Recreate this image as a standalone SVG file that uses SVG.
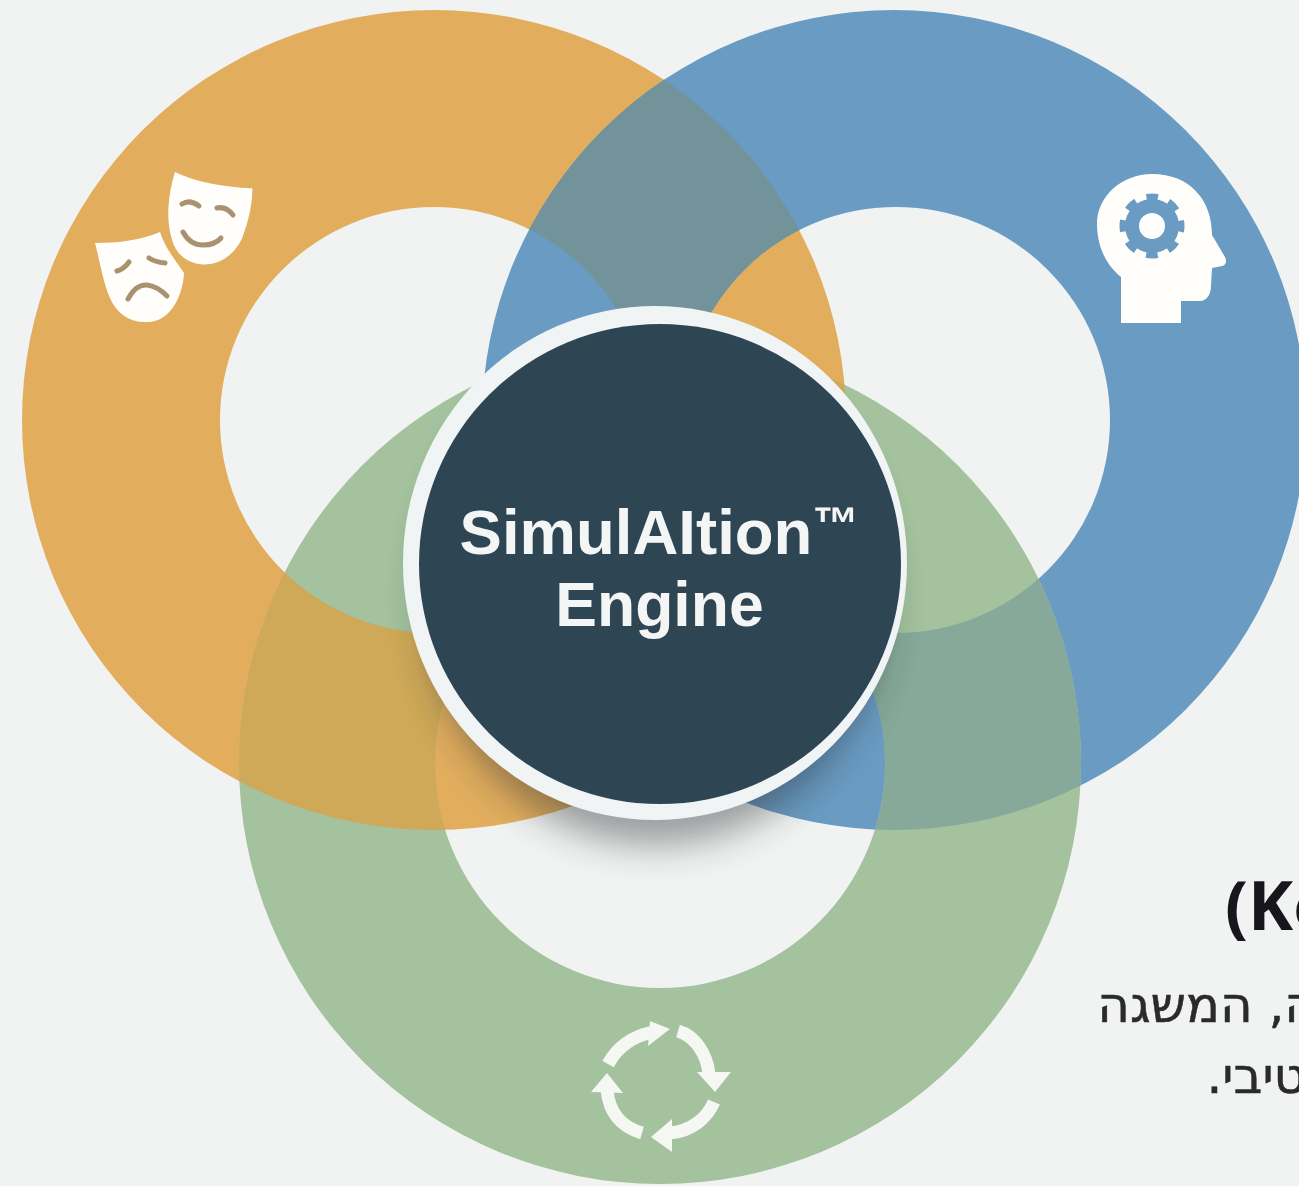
<svg xmlns="http://www.w3.org/2000/svg" width="1299" height="1186" viewBox="0 0 1299 1186">
<style>
.he{font-family:"DejaVu Sans","Open Sans",sans-serif;font-size:50px;fill:#2a2b2b;stroke:#2a2b2b;stroke-width:.5;direction:rtl;text-anchor:start}
.core{font-family:"Liberation Sans",Arial,sans-serif;font-weight:700;fill:#f4f6f6;text-anchor:middle}
.ic{fill:#fffefb}
.face{fill:none;stroke:#a9926f;stroke-width:5;stroke-linecap:round}
.rec{fill:none;stroke:#f4f7f2;stroke-width:13}
.tri{fill:#f4f7f2}
</style>
<defs>
<path id="ringO" fill-rule="evenodd" clip-rule="evenodd" d="M22 420a412 410 0 1 0 824 0a412 410 0 1 0 -824 0ZM220 420a214 213 0 1 0 428 0a214 213 0 1 0 -428 0Z"/>
<path id="ringB" fill-rule="evenodd" clip-rule="evenodd" d="M482 420a412 410 0 1 0 824 0a412 410 0 1 0 -824 0ZM682 420a214 213 0 1 0 428 0a214 213 0 1 0 -428 0Z"/>
<path id="ringG" fill-rule="evenodd" clip-rule="evenodd" d="M239 763a421 421 0 1 0 842 0a421 421 0 1 0 -842 0ZM435 763a225 225 0 1 0 450 0a225 225 0 1 0 -450 0Z"/>
<clipPath id="cO"><use href="#ringO"/></clipPath>
<clipPath id="cB"><use href="#ringB"/></clipPath>
<clipPath id="cG"><use href="#ringG"/></clipPath>
<filter id="shadow" x="-30%" y="-30%" width="160%" height="160%"><feGaussianBlur stdDeviation="18"/></filter>
<filter id="soft" x="-5%" y="-5%" width="110%" height="110%"><feGaussianBlur stdDeviation="0.7"/></filter>
</defs>
<rect width="1299" height="1186" fill="#f1f3f2"/>

<g id="ring-orange"><use href="#ringO" fill="#e2ae5e"/></g>
<g id="ring-blue"><use href="#ringB" fill="#6a9cc3"/></g>
<g id="ring-green"><use href="#ringG" fill="#a3c29d"/></g>
<g id="overlaps">
<g clip-path="url(#cB)"><use href="#ringO" fill="#73939a"/></g>
<g clip-path="url(#cG)"><use href="#ringO" fill="#cfa957"/></g>
<g clip-path="url(#cG)"><use href="#ringB" fill="#86a99a"/></g>
</g>

<g id="icon-masks" filter="url(#soft)">
<path class="ic" d="M95 243C118 243 142 240 160 232C166 250 177 262 184 273C183 296 170 322 148 322C130 323 117 314 110 298C103 282 100 262 95 243Z"/>
<path class="face" d="M117 271Q124 269 129 262M149 258Q155 262 165 263M128 299Q136 284 147 285Q157 286 167 296"/>
<path class="ic" stroke="#e2ae5e" stroke-width="3" d="M174 170C198 182 228 186 254 187C254 205 249 225 243 240C234 258 218 267 203 266C186 265 174 255 170 238C164 218 167 192 174 170Z"/>
<path class="face" d="M182 204Q190 199 199 206M217 208Q226 206 233 215M183 232Q190 245 203 245Q215 245 221 238"/>
</g>

<g id="icon-head" filter="url(#soft)">
<path class="ic" d="M1152 174C1122 174 1097 196 1097 224C1097 246 1106 265 1121 277L1121 323L1181 323L1181 301L1200 301C1207 301 1211 294 1211 286L1212 268L1222 266C1226 265 1227 261 1225 257L1212 235C1212 200 1190 174 1152 174Z"/>
<circle cx="1152" cy="226" r="20" fill="none" stroke="#6a9cc3" stroke-width="14"/>
<circle cx="1152" cy="226" r="29" fill="none" stroke="#6a9cc3" stroke-width="7" stroke-dasharray="11.5 11.28" stroke-dashoffset="5.75"/>
</g>

<g id="icon-cycle" filter="url(#soft)">
<path class="rec" d="M608 1064C618 1046 633 1036 653 1032"/>
<polygon class="tri" points="650,1021 670,1029 648,1046"/>
<path class="rec" d="M678 1031C695 1036 707 1054 709 1074"/>
<polygon class="tri" points="697,1072 731,1072 715,1092"/>
<path class="rec" d="M714 1102C707 1118 692 1131 670 1133"/>
<polygon class="tri" points="672,1119 651,1137 672,1152"/>
<path class="rec" d="M642 1133C621 1127 609 1112 607 1090"/>
<polygon class="tri" points="591,1092 607,1073 623,1093"/>
</g>

<g id="core">
<ellipse cx="655" cy="595" rx="232" ry="250" fill="#20262a" opacity=".42" filter="url(#shadow)"/>
<g filter="url(#soft)">
<ellipse cx="655" cy="563" rx="252" ry="257" fill="#f0f4f5"/>
<ellipse cx="660" cy="564" rx="241" ry="240" fill="#2f4452"/>
<text class="core" x="659" y="554" font-size="63.5">SimulAItion<tspan font-size="46" dy="-15">™</tspan></text>
<text class="core" x="659.5" y="626" font-size="62.5">Engine</text>
</g>
</g>

<g id="caption" filter="url(#soft)">
<text x="1225" y="930" font-family="'Open Sans','Liberation Sans',sans-serif" font-weight="700" font-size="68" fill="#15191c">(Ko</text>
<text class="he" x="1317" y="1022">ה, המשגה</text>
<text class="he" x="1306" y="1093">טיבי.</text>
</g>
</svg>
